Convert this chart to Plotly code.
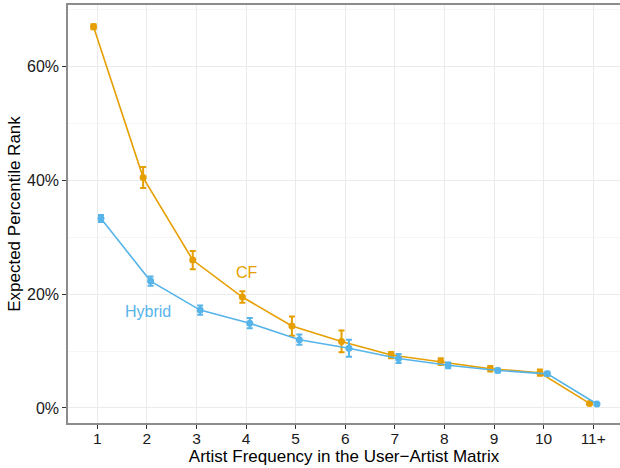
import plotly.graph_objects as go

categories = ["1", "2", "3", "4", "5", "6", "7", "8", "9", "10", "11+"]
cf_values = [67.0, 40.5, 26.0, 19.5, 14.4, 11.7, 9.3, 8.15, 6.9, 6.2, 0.8]
cf_err = [0.45, 1.85, 1.6, 1.0, 1.7, 1.9, 0.55, 0.6, 0.5, 0.55, 0.2]
hy_values = [33.3, 22.3, 17.2, 14.9, 12.0, 10.5, 8.7, 7.5, 6.6, 6.0, 0.7]
hy_err = [0.6, 0.8, 0.8, 0.9, 0.9, 1.5, 0.8, 0.5, 0.35, 0.35, 0.15]

CF_COLOR = "#E69F00"
HY_COLOR = "#56B4E9"
dodge = 0.075
FONT = "Liberation Sans, Arial, Helvetica, sans-serif"

xpos = list(range(1, len(categories) + 1))

fig = go.Figure()
for name, vals, errs, color, off in [
    ("CF", cf_values, cf_err, CF_COLOR, -dodge),
    ("Hybrid", hy_values, hy_err, HY_COLOR, dodge),
]:
    fig.add_trace(go.Scatter(
        x=[p + off for p in xpos],
        y=[v / 100 for v in vals],
        mode="lines+markers",
        name=name,
        line=dict(color=color, width=1.6),
        marker=dict(color=color, size=7),
        error_y=dict(type="data", array=[e / 100 for e in errs], visible=True,
                     color=color, thickness=2, width=3),
        showlegend=False,
    ))

fig.add_annotation(x=4.02, y=0.239, text="CF", showarrow=False,
                   font=dict(color=CF_COLOR, size=16, family=FONT))
fig.add_annotation(x=2.03, y=0.169, text="Hybrid", showarrow=False,
                   font=dict(color=HY_COLOR, size=16, family=FONT))

fig.update_layout(
    width=620, height=468,
    margin=dict(l=68, r=0, t=5, b=45, autoexpand=False),
    paper_bgcolor="white", plot_bgcolor="white",
    font=dict(family=FONT, size=16, color="#1a1a1a"),
)
fig.update_xaxes(
    range=[0.41, 11.54],
    tickvals=xpos, ticktext=categories,
    showgrid=True, gridcolor="#EBEBEB", gridwidth=1,
    zeroline=False,
    showline=True, linecolor="#8c8c8c", linewidth=1.5, mirror=True,
    ticks="outside", ticklen=4, tickcolor="#333333", tickwidth=1,
    ticklabelstandoff=-3,
    tickfont=dict(size=15.5, color="#1a1a1a"),
    title=dict(text="Artist Frequency in the User\u2212Artist Matrix", standoff=2,
               font=dict(size=17, color="#000000")),
    automargin=False,
)
fig.update_yaxes(
    range=[-0.0264, 0.7083],
    tickvals=[0, 0.2, 0.4, 0.6], ticktext=["0%", "20%", "40%", "60%"],
    showgrid=True, gridcolor="#EBEBEB", gridwidth=1,
    minor=dict(tickvals=[0.1, 0.3, 0.5, 0.7], showgrid=True, gridcolor="#F5F5F5", gridwidth=1, ticks=""),
    zeroline=False,
    showline=True, linecolor="#8c8c8c", linewidth=1.5,
    ticks="outside", ticklen=4, tickcolor="#333333", tickwidth=1,
    tickfont=dict(size=16, color="#1a1a1a"),
    title=dict(text="Expected Percentile Rank", standoff=2,
               font=dict(size=17, color="#000000")),
    automargin=False,
)

fig.write_html("out.html", config={"displayModeBar": False},
               post_script="document.body.style.margin='0';document.body.style.overflow='hidden';")
